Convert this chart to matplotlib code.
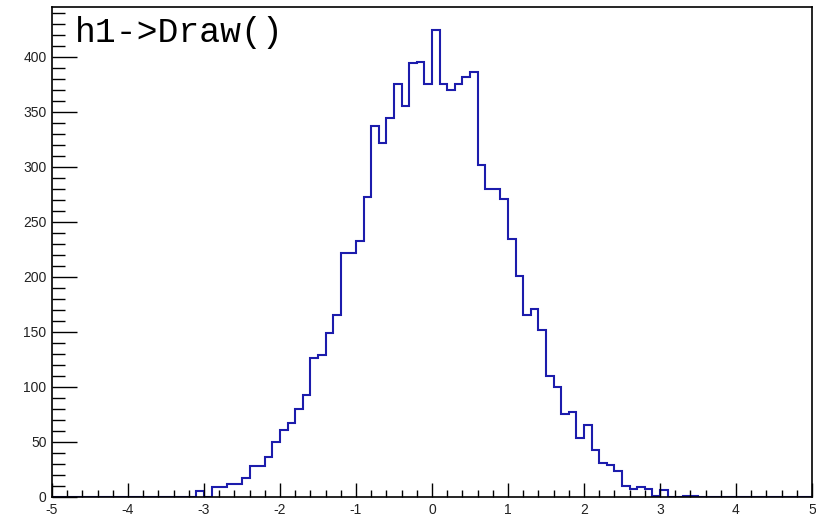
import numpy as np
from matplotlib import pyplot as plt
from matplotlib.ticker import MultipleLocator

# h1: 100 bins from -5 to 5
x_min, x_max, n_bins = -5.0, 5.0, 100

# bin contents, first non-empty bin is [-3.1, -3.0]
first_bin = 19
counts_nonzero = [
    5, 0, 9, 9, 12, 12, 17, 28, 28, 36,
    50, 61, 67, 80, 93, 126, 129, 149, 165, 222,
    222, 233, 273, 337, 322, 344, 375, 355, 394, 395,
    375, 424, 375, 370, 375, 382, 386, 302, 280, 280,
    271, 234, 201, 165, 171, 152, 110, 100, 75, 77,
    54, 65, 43, 31, 29, 24, 10, 7, 9, 7,
    1, 6, 0, 0, 1, 1,
]

counts = np.zeros(n_bins)
counts[first_bin:first_bin + len(counts_nonzero)] = counts_nonzero
edges = np.linspace(x_min, x_max, n_bins + 1)

plt.rcParams['font.family'] = ['Liberation Sans', 'DejaVu Sans']
plt.rcParams['axes.unicode_minus'] = False

fig = plt.figure(figsize=(8.16, 5.2), dpi=100)
ax = fig.add_axes([52 / 816, 23 / 520, 760 / 816, 490 / 520])

ax.stairs(counts, edges, color='#1c1cac', linewidth=1.5, baseline=0, zorder=1)

ax.set_xlim(x_min, x_max)
ax.set_ylim(0, counts.max() * 1.05)

ax.xaxis.set_major_locator(MultipleLocator(1))
ax.xaxis.set_minor_locator(MultipleLocator(0.2))
ax.yaxis.set_major_locator(MultipleLocator(50))
ax.yaxis.set_minor_locator(MultipleLocator(10))

ax.tick_params(axis='x', which='major', direction='in', length=10, width=1,
               labelsize=10, pad=4, labelcolor='#222222')
ax.tick_params(axis='x', which='minor', direction='in', length=5, width=1)
ax.tick_params(axis='y', which='major', direction='in', length=18, width=1,
               labelsize=10, pad=4, labelcolor='#222222')
ax.tick_params(axis='y', which='minor', direction='in', length=9, width=1)

for s in ax.spines.values():
    s.set_linewidth(1.2)
    s.set_zorder(3)

fig.text(75 / 816, 1 - 42 / 520, 'h1->Draw()', family='Liberation Mono',
         fontsize=25, va='baseline', ha='left', color='black')

fig.savefig('out.png', dpi=100)
